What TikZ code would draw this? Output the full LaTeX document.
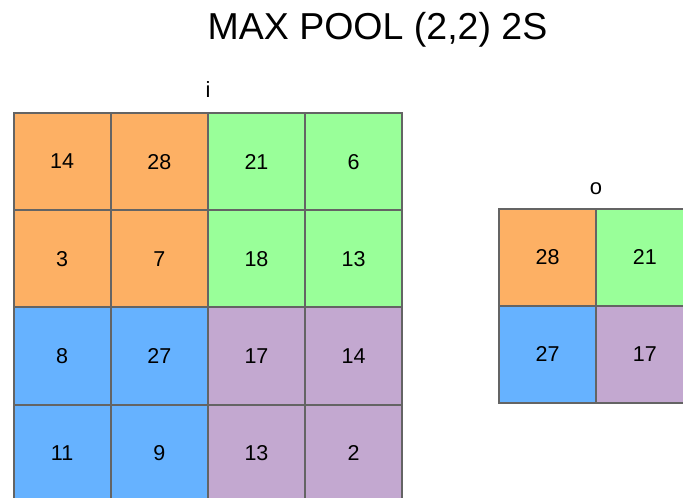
\documentclass[tikz,border=0pt]{standalone}
\usepackage{fontspec}
\setmainfont{Liberation Sans}
\definecolor{cOrange}{RGB}{253,176,100}
\definecolor{cGreen}{RGB}{153,255,153}
\definecolor{cBlue}{RGB}{102,178,255}
\definecolor{cPurple}{RGB}{195,168,208}
\definecolor{cEdge}{RGB}{100,100,100}
\begin{document}
\begin{tikzpicture}[x=1pt,y=-1pt,
  cell/.style={draw=cEdge, line width=2pt, minimum width=97.2pt, minimum height=97.2pt, inner sep=0pt, font=\fontsize{21.5}{24}\selectfont},
  lbl/.style={anchor=base, font=\fontsize{22}{26}\selectfont},
  ttl/.style={anchor=base, font=\fontsize{37.5}{40}\selectfont}]
\useasboundingbox (0,0) rectangle (683,498);
\node[ttl] (title) at (377.5,39.5) {MAX POOL (2,2) 2S};
\node[lbl] (ilbl) at (208,97) {i};
\node[lbl] (olbl) at (596,194) {o};
% input grid
\def\cs{97.2}
\foreach \r/\c/\v/\col in {
  0/0/14/cOrange, 0/1/28/cOrange, 0/2/21/cGreen, 0/3/6/cGreen,
  1/0/3/cOrange, 1/1/7/cOrange, 1/2/18/cGreen, 1/3/13/cGreen,
  2/0/8/cBlue, 2/1/27/cBlue, 2/2/17/cPurple, 2/3/14/cPurple,
  3/0/11/cBlue, 3/1/9/cBlue, 3/2/13/cPurple, 3/3/2/cPurple}{
  \node[cell, fill=\col] (i\r\c) at ({13.5+\cs/2+\c*\cs},{113+\cs/2+\r*\cs}) {\v};
}
% output grid
\foreach \r/\c/\v/\col in {
  0/0/28/cOrange, 0/1/21/cGreen,
  1/0/27/cBlue, 1/1/17/cPurple}{
  \node[cell, fill=\col] (o\r\c) at ({499+\cs/2+\c*\cs},{208.5+\cs/2+\r*\cs}) {\v};
}
\end{tikzpicture}
\end{document}
